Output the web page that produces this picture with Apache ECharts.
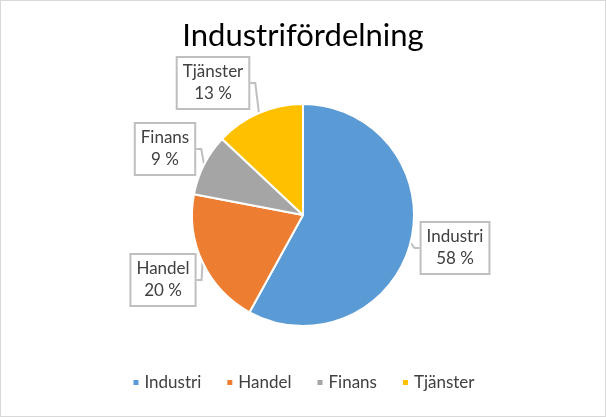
<!DOCTYPE html>
<html><head><meta charset="utf-8">
<script src="https://cdn.jsdelivr.net/npm/echarts@6/dist/echarts.min.js"></script>
<style>html,body{margin:0;padding:0;background:#fff;}#c{width:604px;height:415px;border:1px solid #d9d9d9;}</style>
</head><body><div id="c"></div>
<script>
const titleText = 'Industrifördelning';
const categories = ['Industri', 'Handel', 'Finans', 'Tjänster'];
const values = [58, 20, 9, 13];
const colors = ['#5B9BD5', '#ED7D31', '#A5A5A5', '#FFC000'];
// label box centre positions (layout only)
const labelPos = [[454, 247], [162, 279], [164, 148], [212, 82]];

const chart = echarts.init(document.getElementById('c'));
const font = 'Lato, "Open Sans", sans-serif';
chart.setOption({
  animation: false,
  color: colors,
  title: {text: titleText, left: 'center', top: 14,
    textStyle: {fontFamily: font, fontSize: 31, fontWeight: 'normal', color: '#000'}},
  legend: {bottom: 20, left: 'center', icon: 'rect', itemWidth: 7, itemHeight: 7, itemGap: 24,
    textStyle: {fontFamily: font, fontSize: 17, color: '#404040'},
    data: categories},
  series: [{
    type: 'pie', center: [302, 214], radius: 111, startAngle: 90, clockwise: true,
    itemStyle: {borderColor: '#fff', borderWidth: 2},
    data: categories.map((c, i) => ({name: c, value: values[i]})),
    label: {show: true, formatter: p => p.name + '\n' + p.value + ' %',
      fontFamily: font, fontSize: 17, color: '#404040', lineHeight: 22, align: 'center',
      backgroundColor: '#fff', borderColor: '#bfbfbf', borderWidth: 2, padding: [4, 5, 2, 5]},
    labelLine: {show: true, length: 5, length2: 5, lineStyle: {color: '#bfbfbf', width: 2}},
    labelLayout: function (p) {
      const pos = labelPos[p.dataIndex];
      return {x: pos[0], y: pos[1], align: 'center', verticalAlign: 'middle'};
    },
    emphasis: {disabled: true}
  }]
});
</script></body></html>
